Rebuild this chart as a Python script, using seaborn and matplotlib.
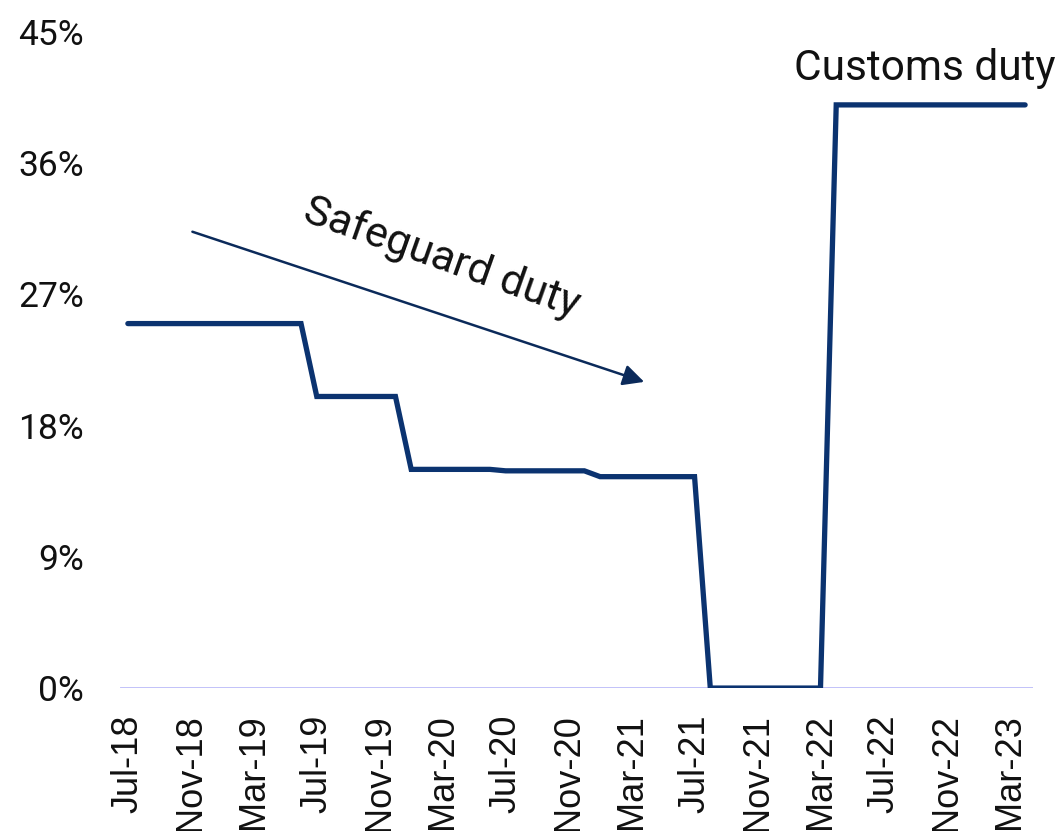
import matplotlib
matplotlib.use("Agg")
import matplotlib.pyplot as plt
import seaborn as sns
import pandas as pd

months = pd.date_range("2018-07-01", "2023-04-01", freq="MS")
month_labels = [d.strftime("%b-%y") for d in months]
duty = ([25.0] * 12 + [20.0] * 6 + [15.0] * 6 + [14.9] * 6 + [14.5] * 7
        + [0.0] * 8 + [40.0] * 13)
y_ticks = [0, 9, 18, 27, 36, 45]

sns.set_theme(style="white")
plt.rcParams['font.family'] = ['Roboto', 'DejaVu Sans']

df = pd.DataFrame({"idx": range(len(duty)), "duty": duty})

fig = plt.figure(figsize=(10.61, 8.31), dpi=100)
ax = fig.add_axes([0.1131, 0.172, 0.8605, 0.7895])

ax.axhline(0, color="#B0B0F8", lw=1.8, zorder=1)
sns.lineplot(data=df, x="idx", y="duty", ax=ax, color="#0B3370", lw=3.8,
             zorder=3, solid_joinstyle="miter")

ax.set_xlim(-0.5, len(duty) - 0.5)
ax.set_ylim(0, 45)
ax.set_yticks(y_ticks)
ax.set_yticklabels([f"{v}%" for v in y_ticks], fontsize=25.5, color="#111111")
tick_pos = list(range(0, len(duty), 4))
ax.set_xticks(tick_pos)
ax.set_xticklabels([month_labels[i] for i in tick_pos], rotation=90,
                   fontsize=26, family=["Liberation Sans"], color="#111111")
ax.tick_params(axis="x", length=0, pad=19)
ax.tick_params(axis="y", length=0, pad=26)
ax.set_xlabel("")
ax.set_ylabel("")
for s in ax.spines.values():
    s.set_visible(False)
ax.grid(False)

ax.text(50.6, 41.7, "Customs duty", fontsize=30.5, ha="center",
        va="baseline", color="#111111")
ax.text(19.9, 29.5, "Safeguard duty", fontsize=31, ha="center", va="center",
        rotation=-19.5, color="#111111")
ax.annotate("", xy=(32.8, 21.0), xytext=(4.1, 31.3),
            arrowprops=dict(arrowstyle="-|>", color="#0B2A5A", lw=1.8,
                            mutation_scale=32, shrinkA=0, shrinkB=0))

fig.savefig("out.png", dpi=100)
